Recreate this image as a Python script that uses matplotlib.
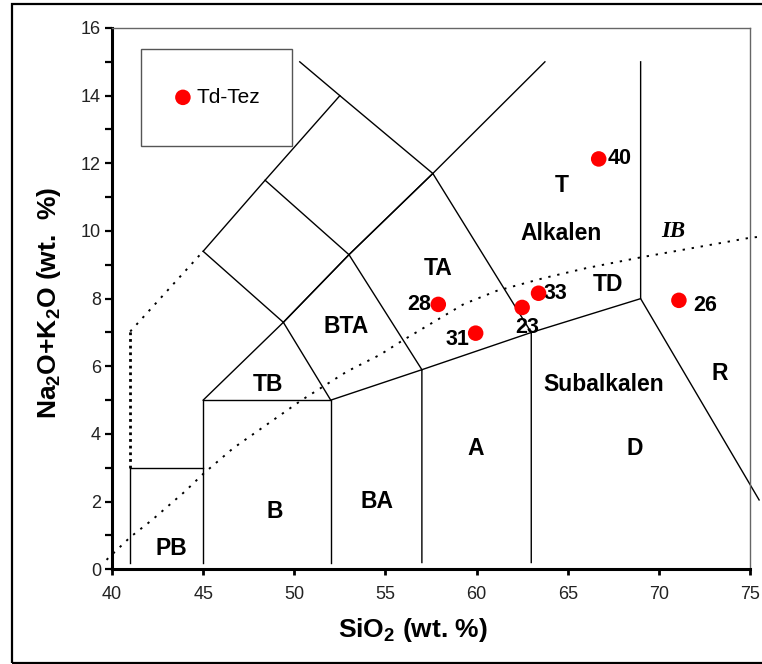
import matplotlib
matplotlib.use('Agg')
import matplotlib.pyplot as plt
from matplotlib.patches import Rectangle

plt.rcParams['font.family'] = 'Liberation Sans'
plt.rcParams['mathtext.fontset'] = 'custom'
plt.rcParams['mathtext.rm'] = 'Liberation Sans'
plt.rcParams['mathtext.bf'] = 'Liberation Sans:bold'

# samples (Td-Tez)
sample_names = ['40', '26', '33', '23', '28', '31']
sio2 = [66.7, 71.1, 63.4, 62.5, 57.9, 59.95]
alkali = [12.13, 7.95, 8.16, 7.74, 7.83, 6.98]

# TAS field boundaries (SiO2, Na2O+K2O)
boundaries = [
    ([41, 41, 45], [0.2, 3, 3]),
    ([45, 45, 52, 52], [0.2, 5, 5, 0.2]),
    ([52, 57, 57], [5, 5.9, 0.2]),
    ([57, 63, 63], [5.9, 7, 0.2]),
    ([63, 69, 69], [7, 8, 15]),
    ([45, 49.4, 52], [5, 7.3, 5]),
    ([49.4, 53, 57], [7.3, 9.3, 5.9]),
    ([53, 57.6, 63], [9.3, 11.7, 7]),
    ([45, 49.4], [9.4, 7.3]),
    ([48.4, 53], [11.5, 9.3]),
    ([50.3, 52.5, 57.6], [15, 14, 11.7]),
    ([45, 48.4, 52.5], [9.4, 11.5, 14]),
    ([49.4, 53, 57.6, 63.75], [7.3, 9.3, 11.7, 15]),
]
dr_x = [69, 75.5]
dr_y = [8, 2.05]

# dotted foidite limit
foid_x = [41, 41]
foid_y = [3, 7.03]
foid2_x = [41, 45]
foid2_y = [7.03, 9.4]

# Irvine & Baragar alkaline / subalkaline divide
ib_x = [39.7, 41.0, 42.2, 44.0, 45.0, 46.65, 50.4, 52.9, 54.7, 55.9,
        59.3, 61.1, 63.7, 66.0, 69.0, 75.0, 75.55]
ib_y = [0.28, 0.95, 1.46, 2.3, 2.82, 3.58, 5.0, 5.85, 6.34, 6.75,
        7.84, 8.23, 8.61, 8.9, 9.22, 9.8, 9.83]

field_names = ['T', 'Alkalen', 'TA', 'TD', 'BTA', 'TB', 'Subalkalen', 'R',
               'A', 'D', 'B', 'BA', 'PB']
field_x = [64.66, 64.66, 57.9, 67.19, 52.84, 48.57, 66.99, 73.35,
           59.97, 68.69, 48.95, 54.54, 43.27]
field_y = [11.34, 9.94, 8.88, 8.41, 7.17, 5.45, 5.45, 5.8,
           3.58, 3.58, 1.70, 2.0, 0.62]

xticks = [40, 45, 50, 55, 60, 65, 70, 75]
yticks = [0, 2, 4, 6, 8, 10, 12, 14, 16]

# label offsets in pixels
label_off = [(21, 0), (26, -5), (17, 0), (5, -20), (-19, 0), (-18, -6)]

fig = plt.figure(figsize=(7.62, 6.64), dpi=100)
ax = fig.add_axes([112 / 762, 1 - 569.3 / 664, 638 / 762, 541.3 / 664])

for bx, by in boundaries:
    ax.plot(bx, by, color='black', lw=1.0)
ax.plot(dr_x, dr_y, color='black', lw=1.0, clip_on=False)

ax.plot(foid_x, foid_y, color='black', lw=2.0, dashes=(1, 1.4))
ax.plot(foid2_x, foid2_y, color='black', lw=1.4, dashes=(1.2, 3.5))
ax.plot(ib_x, ib_y, color='black', lw=1.4, dashes=(1.2, 3.5), clip_on=False)

ax.scatter(sio2, alkali, s=125, c='#ff0000', edgecolors='none', zorder=5)
for name, x, y, off in zip(sample_names, sio2, alkali, label_off):
    ax.annotate(name, (x, y), xytext=off, textcoords='offset pixels',
                ha='center', va='center', fontsize=15.5, fontweight='bold')

for name, x, y in zip(field_names, field_x, field_y):
    ax.text(x, y, name, ha='center', va='center', fontsize=16.5, fontweight='bold')
ax.text(70.8, 9.99, 'IB', ha='center', va='center', fontsize=16.5,
        family='Liberation Serif', style='italic', fontweight='bold')

# legend box
ax.add_patch(Rectangle((41.59, 12.52), 8.31, 2.86, fill=False,
                       edgecolor='#555555', lw=1.0, zorder=4))
ax.scatter([43.89], [13.95], s=125, c='#ff0000', edgecolors='none', zorder=5)
ax.text(44.63, 13.95, 'Td-Tez', ha='left', va='center', fontsize=15)

ax.set_xlim(40, 75)
ax.set_ylim(0, 16)
ax.set_xticks(xticks)
ax.set_yticks(yticks)
ax.set_yticks(range(1, 16, 2), minor=True)
ax.tick_params(axis='y', which='both', direction='out', length=5, width=1.6,
               labelsize=13, pad=3, labelcolor='#222222')
ax.tick_params(axis='x', which='major', direction='out', length=4, width=2,
               labelsize=13, pad=8, labelcolor='#222222')
for s in ['left', 'bottom']:
    ax.spines[s].set_linewidth(2.2)
for s in ['top', 'right']:
    ax.spines[s].set_linewidth(1.0)
    ax.spines[s].set_color('#666666')

ax.text(0.472, -0.112, 'SiO$_\\mathbf{2}$ (wt. %)', transform=ax.transAxes,
        ha='center', va='center', fontsize=19, fontweight='bold')
ax.text(-0.0987, 0.492, 'Na$_\\mathbf{2}$O+K$_\\mathbf{2}$O (wt.  %)',
        transform=ax.transAxes, rotation=90, ha='center', va='center',
        fontsize=19, fontweight='bold')

fig.add_artist(Rectangle((12 / 762, 1.3 / 664), 1.0, 658.7 / 664,
                         transform=fig.transFigure, fill=False,
                         edgecolor='black', lw=1.6, clip_on=False))

fig.savefig('out.png', dpi=100)
